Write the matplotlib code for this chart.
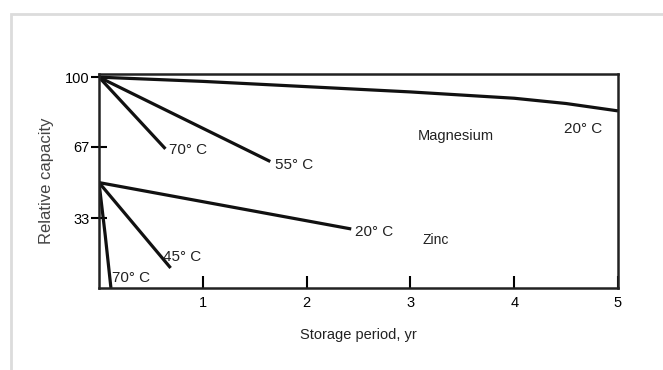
import matplotlib.pyplot as plt
from matplotlib.patches import Rectangle

# Storage period (years) vs. relative capacity (%) for dry cells
mg_20_years = [0, 1, 2, 3, 4, 4.5, 5]
mg_20_capacity = [100, 98, 95.5, 93, 90, 87.5, 84]
mg_55_years = [0, 1.65]
mg_55_capacity = [100, 60]
mg_70_years = [0, 0.64]
mg_70_capacity = [100, 66]

zn_20_years = [0, 2.43]
zn_20_capacity = [50, 28]
zn_45_years = [0, 0.69]
zn_45_capacity = [50, 9.5]
zn_70_years = [0, 0.06, 0.115]
zn_70_capacity = [50, 25, 0]

x_ticks = [1, 2, 3, 4, 5]
y_ticks = [33, 67, 100]

plt.rcParams['font.family'] = ['Liberation Sans', 'DejaVu Sans']

fig = plt.figure(figsize=(6.63, 3.70), dpi=100)
# light frame around the figure
fig.patches.append(Rectangle((11 / 663, -0.1), 1.2, (370 - 14) / 370 + 0.1,
                             transform=fig.transFigure, fill=False,
                             edgecolor='#dcdcdc', lw=2))

ax = fig.add_axes([99 / 663, (370 - 288) / 370, (618 - 99) / 663, (288 - 74) / 370])

line_kw = dict(color='#111111', lw=2.3, solid_capstyle='butt')
for xs, ys in [(mg_20_years, mg_20_capacity), (mg_55_years, mg_55_capacity),
               (mg_70_years, mg_70_capacity), (zn_20_years, zn_20_capacity),
               (zn_45_years, zn_45_capacity), (zn_70_years, zn_70_capacity)]:
    ax.plot(xs, ys, **line_kw)

ax.set_xlim(0, 5)
ax.set_ylim(0, 101.5)

for side in ax.spines.values():
    side.set_linewidth(1.8)
    side.set_color('#222222')

ax.set_xticks(x_ticks)
ax.set_yticks(y_ticks)
ax.tick_params(axis='x', direction='in', length=9, width=1.5, pad=6, labelsize=10.5)
ax.tick_params(axis='y', direction='inout', length=12, width=1.5, pad=1, labelsize=10.5)

ax.set_xlabel('Storage period, yr', fontsize=10.5, labelpad=13, color='#222222')
ax.set_ylabel('Relative capacity', fontsize=12, labelpad=8, color='#444444')

txt = dict(fontsize=11, color='#222222')
ax.text(0.67, 63.5, '70° C', **txt)
ax.text(1.7, 56.5, '55° C', **txt)
ax.text(4.48, 73.5, '20° C', **txt)
ax.text(3.07, 70, 'Magnesium', fontsize=10.5, color='#222222')
ax.text(2.47, 24.5, '20° C', **txt)
ax.text(3.12, 21, 'Zinc', fontsize=10, color='#222222')
ax.text(0.62, 13, '45° C', **txt)
ax.text(0.13, 3, '70° C', **txt)

fig.savefig('out.png', dpi=100)
